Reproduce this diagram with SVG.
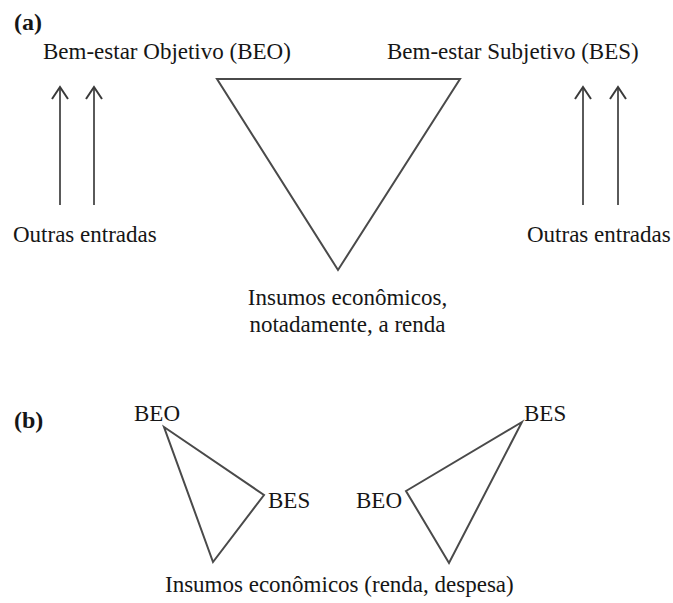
<svg xmlns="http://www.w3.org/2000/svg" width="673" height="603" viewBox="0 0 673 603">
  <style>
    text { font-family: "Liberation Serif", "Times New Roman", serif; font-size: 23px; fill: #161616; }
    .panel { font-weight: bold; font-size: 24px; }
    .tri { fill: none; stroke: #4a4a4a; stroke-width: 2; stroke-linejoin: miter; }
    .arrow { fill: none; stroke: #5a5a5a; stroke-width: 2; marker-end: url(#open-head); }
  </style>
  <defs>
    <marker id="open-head" markerUnits="userSpaceOnUse" markerWidth="20" markerHeight="20" refX="18" refY="10" orient="auto" viewBox="0 0 20 20">
      <polyline points="6,2 18,10 6,18" fill="none" stroke="#3a3a3a" stroke-width="2"/>
    </marker>
  </defs>
  <rect width="673" height="603" fill="#ffffff"/>

  <!-- Panel (a) -->
  <text class="panel" x="14" y="30">(a)</text>

  <g id="beo-a">
    <text x="43" y="59">Bem-estar Objetivo (BEO)</text>
  </g>
  <g id="bes-a">
    <text x="387" y="59">Bem-estar Subjetivo (BES)</text>
  </g>
  <g id="triangle-a">
    <polygon class="tri" points="217,79 460,79 338,270"/>
  </g>
  <g id="outras-left">
    <text x="13" y="242">Outras entradas</text>
  </g>
  <g id="outras-right">
    <text x="527" y="242">Outras entradas</text>
  </g>
  <g id="insumos-a">
    <text x="347.5" y="305" text-anchor="middle">Insumos econômicos,</text>
    <text x="347.5" y="332" text-anchor="middle">notadamente, a renda</text>
  </g>

  <!-- Panel (b) -->
  <text class="panel" x="14" y="428">(b)</text>

  <g id="triangle-b-left">
    <polygon class="tri" points="164,427 264,495 213,562"/>
    <text x="134" y="421">BEO</text>
    <text x="268" y="508">BES</text>
  </g>
  <g id="triangle-b-right">
    <polygon class="tri" points="522,422 406,491 449,563"/>
    <text x="524" y="421">BES</text>
    <text x="356" y="508">BEO</text>
  </g>
  <g id="insumos-b">
    <text x="165" y="592">Insumos econômicos (renda, despesa)</text>
  </g>

  <!-- Connectors: other inputs feeding each well-being measure -->
  <g id="connectors">
    <line class="arrow" x1="60" y1="205" x2="60" y2="87"/>
    <line class="arrow" x1="94" y1="205" x2="94" y2="87"/>
    <line class="arrow" x1="583" y1="205" x2="583" y2="87"/>
    <line class="arrow" x1="618" y1="205" x2="618" y2="87"/>
  </g>
</svg>
